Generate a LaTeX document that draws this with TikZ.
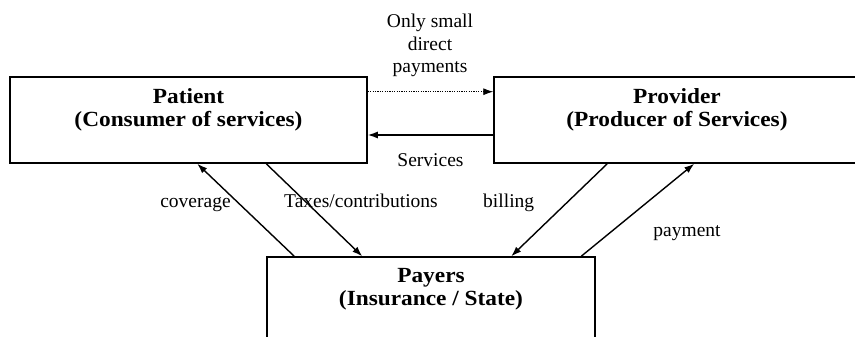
\documentclass[tikz,border=0pt]{standalone}
\usepackage{fontspec}
\setmainfont{Liberation Serif}
\newfontfamily\bxfont[FakeStretch=1.08]{Liberation Serif}
\usetikzlibrary{arrows.meta}
\begin{document}
\begin{tikzpicture}[x=1pt,y=-1pt,
  box/.style={draw,line width=1.5pt,inner sep=0pt},
  title/.style={font=\bxfont\bfseries\fontsize{21.6}{23.3}\selectfont,align=center,inner sep=0pt},
  lab/.style={font=\fontsize{19.5}{22.7}\selectfont,inner sep=0pt},
  tip/.style={-{Latex[length=10pt,width=7pt]}},
  arr/.style={line width=1.4pt,tip},
  dotarr/.style={line width=0.9pt,dash pattern=on 1.2pt off 1.2pt,tip}]
\useasboundingbox (0,0) rectangle (855,337);
\clip (0,0) rectangle (855,337);
% boxes
\node[box,minimum width=357pt,minimum height=86pt] (patient) at (188.5,120) {};
\node[box,minimum width=366pt,minimum height=86pt] (provider) at (677,120) {};
\node[box,minimum width=328pt,minimum height=90pt] (payers) at (431,302) {};
% box texts
\node[title] (patientT) at (188.5,110) {Patient\\(Consumer of services)};
\node[title] (providerT) at (677,110) {Provider\\(Producer of Services)};
\node[title] (payersT) at (431,289) {Payers\\(Insurance / State)};
% labels
\node[lab,align=center] (direct) at (430,45.5) {Only small\\direct\\payments};
\node[lab,anchor=base] (services) at (430.5,166.7) {Services};
\node[lab,anchor=base] (coverage) at (195.5,207) {coverage};
\node[lab,anchor=base] (taxes) at (361,207) {Taxes/contributions};
\node[lab,anchor=base] (billing) at (508.7,207) {billing};
\node[lab,anchor=base] (payment) at (687,236) {payment};
% connectors
\draw[dotarr] ([yshift=28.3pt]patient.east) -- ([yshift=28.3pt]provider.west);
\draw[arr] ([yshift=-15pt]provider.west) -- ([yshift=-15pt]patient.east);
\draw[arr] ([xshift=28pt]payers.north west) -- ([xshift=188pt]patient.south west);
\draw[arr] ([xshift=257pt]patient.south west) -- ([xshift=96pt]payers.north west);
\draw[arr] ([xshift=114pt]provider.south west) -- ([xshift=245pt]payers.north west);
\draw[arr] ([xshift=315pt]payers.north west) -- ([xshift=201pt]provider.south west);
\end{tikzpicture}
\end{document}
